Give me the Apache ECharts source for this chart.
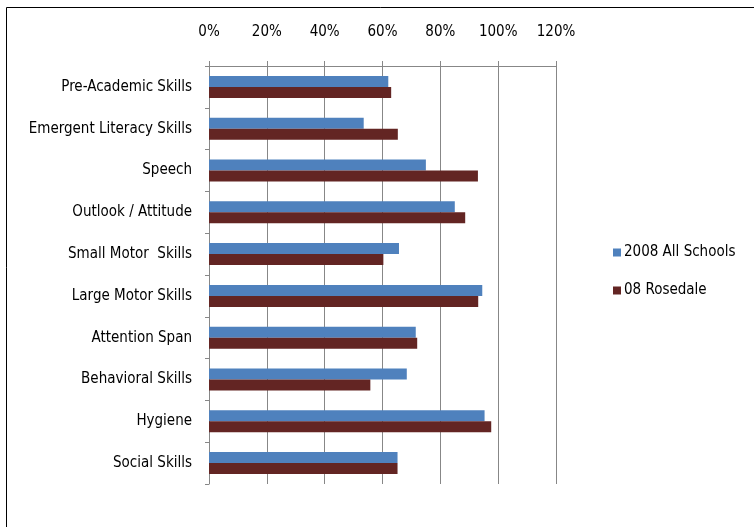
<!DOCTYPE html>
<html>
<head>
<meta charset="utf-8">
<style>
  html, body { margin: 0; padding: 0; background: #fff; }
  #chart { width: 754px; height: 527px; }
</style>
<script src="https://cdn.jsdelivr.net/npm/echarts@6/dist/echarts.min.js"></script>
</head>
<body>
<div id="chart"></div>
<script>
// Skill categories, listed top to bottom
const categories = [
  'Pre-Academic Skills',
  'Emergent Literacy Skills',
  'Speech',
  'Outlook / Attitude',
  'Small Motor  Skills',
  'Large Motor Skills',
  'Attention Span',
  'Behavioral Skills',
  'Hygiene',
  'Social Skills'
];

// Share of children rated ready, in percent
const allSchools2008 = [62, 53.5, 75, 85, 65.7, 94.5, 71.5, 68.4, 95.3, 65.2];
const rosedale08 = [63, 65.3, 93, 88.6, 60.3, 93.1, 72, 55.8, 97.6, 65.2];

const seriesNames = ['2008 All Schools', '08 Rosedale'];
const xTicks = [0, 20, 40, 60, 80, 100, 120];

const FONT = '"Liberation Sans Narrow", "DejaVu Sans Condensed", sans-serif';
const GRID_COLOR = '#878787';

const chart = echarts.init(document.getElementById('chart'), null, { renderer: 'canvas' });

chart.setOption({
  animation: false,
  backgroundColor: '#fff',
  textStyle: { fontFamily: FONT },
  graphic: [{
    // chart frame: left and top edges only, the rest runs off the page
    type: 'polyline',
    shape: { points: [[6.5, 540], [6.5, 7.5], [760, 7.5]] },
    style: { fill: null, stroke: '#000', lineWidth: 1 },
    silent: true,
    z: -1
  }],
  grid: { left: 209, top: 66, width: 347, height: 418, containLabel: false },
  legend: {
    orient: 'vertical',
    left: 608,
    top: 240,
    itemWidth: 8,
    itemHeight: 8,
    itemGap: 23,
    icon: 'rect',
    textStyle: { fontFamily: FONT, fontSize: 15, color: '#000', padding: [0, 0, 0, -2] },
    data: seriesNames
  },
  xAxis: {
    type: 'value',
    position: 'top',
    min: 0,
    max: 120,
    interval: 20,
    axisLine: { show: true, lineStyle: { color: GRID_COLOR, width: 1 } },
    axisTick: { show: true, length: 5, lineStyle: { color: GRID_COLOR } },
    splitLine: { show: true, lineStyle: { color: GRID_COLOR, width: 1 } },
    axisLabel: {
      margin: 26,
      fontFamily: FONT,
      fontSize: 15,
      color: '#000',
      formatter: v => (xTicks.includes(v) ? v + '%' : '')
    }
  },
  yAxis: {
    type: 'category',
    inverse: true,
    data: categories,
    axisLine: { show: true, lineStyle: { color: GRID_COLOR, width: 1 } },
    axisTick: { show: true, length: 4, lineStyle: { color: GRID_COLOR } },
    axisLabel: {
      margin: 17,
      fontFamily: FONT,
      fontSize: 15,
      color: '#000'
    }
  },
  series: [
    {
      name: seriesNames[0],
      type: 'bar',
      data: allSchools2008,
      barWidth: 11,
      barGap: '0%',
      itemStyle: { color: '#4F81BD' }
    },
    {
      name: seriesNames[1],
      type: 'bar',
      data: rosedale08,
      barWidth: 11,
      barGap: '0%',
      itemStyle: { color: '#632523' }
    }
  ]
});
</script>
</body>
</html>
